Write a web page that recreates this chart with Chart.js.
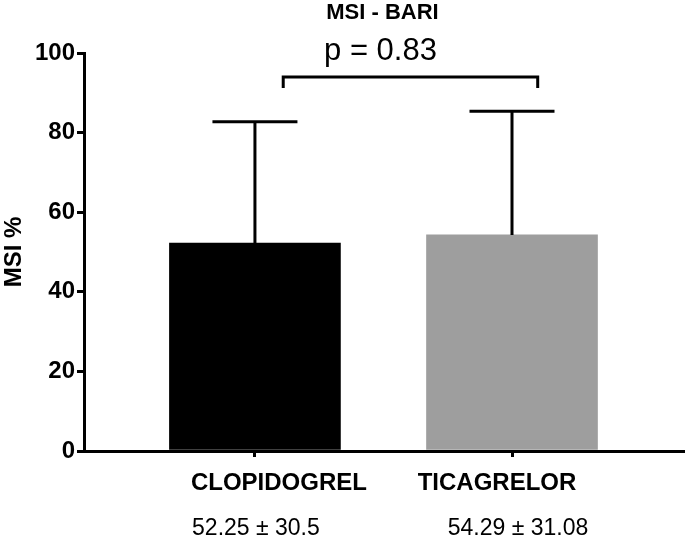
<!DOCTYPE html>
<html>
<head>
<meta charset="utf-8">
<script src="https://cdn.jsdelivr.net/npm/chart.js@4"></script>
<style>
  html, body { margin: 0; padding: 0; background: #fff; }
  #contenedor { width: 685px; height: 539px; }
</style>
</head>
<body>
<div id="contenedor"><canvas id="grafica"></canvas></div>
<script>
// ================= DATOS =================
const categorias = ["CLOPIDOGREL", "TICAGRELOR"];
const posiciones = [1, 2];
const medias = [52.25, 54.29];
const desviaciones = [30.5, 31.08];
const coloresBarras = ["#000000", "#9e9e9e"];
const ticksY = [0, 20, 40, 60, 80, 100];
const titulo = "MSI - BARI";
const textoP = "p = 0.83";

const FUENTE = "'Liberation Sans', Arial, Helvetica, sans-serif";

// 🔥 BARRAS DE ERROR, LLAVE Y TEXTOS
const pluginAnotaciones = {
  id: "anotaciones",
  afterDatasetsDraw(chart) {
    const { ctx, chartArea, scales: { x, y } } = chart;
    ctx.save();
    ctx.strokeStyle = "#000";
    ctx.lineWidth = 3;
    ctx.lineCap = "butt";

    // barras de error (solo hacia arriba)
    medias.forEach((m, i) => {
      const cx = x.getPixelForValue(posiciones[i]);
      const yBase = y.getPixelForValue(m);
      const yTop = y.getPixelForValue(m + desviaciones[i]);
      ctx.beginPath();
      ctx.moveTo(cx, yBase);
      ctx.lineTo(cx, yTop);
      ctx.moveTo(cx - 42.5, yTop);
      ctx.lineTo(cx + 42.5, yTop);
      ctx.stroke();
    });

    // llave de comparacion
    const x1 = x.getPixelForValue(1.11);
    const x2 = x.getPixelForValue(2.10);
    const yL = y.getPixelForValue(94);
    const yL2 = y.getPixelForValue(91.2);
    ctx.beginPath();
    ctx.moveTo(x1, yL2);
    ctx.lineTo(x1, yL);
    ctx.lineTo(x2, yL);
    ctx.lineTo(x2, yL2);
    ctx.stroke();

    // etiquetas de categoria y media ± DE
    const ajusteNombre = [24, -15];
    const ajusteValor = [1, 6];
    ctx.fillStyle = "#000";
    ctx.textAlign = "center";
    ctx.textBaseline = "alphabetic";
    categorias.forEach((c, i) => {
      const cx = x.getPixelForValue(posiciones[i]);
      ctx.font = "bold 24px " + FUENTE;
      ctx.fillText(c, cx + ajusteNombre[i], chartArea.bottom + 39);
      ctx.font = "23px " + FUENTE;
      ctx.fillText(medias[i] + " ± " + desviaciones[i], cx + ajusteValor[i], chartArea.bottom + 84);
    });

    // titulo y valor p
    const centro = (chartArea.left + chartArea.right) / 2;
    ctx.font = "bold 22px " + FUENTE;
    ctx.fillText(titulo, centro - 2, 19);
    ctx.font = "31px " + FUENTE;
    ctx.fillText(textoP, centro - 4, 60);

    ctx.restore();
  }
};

new Chart(document.getElementById("grafica"), {
  type: "bar",
  data: {
    datasets: [{
      data: posiciones.map((p, i) => ({ x: p, y: medias[i] })),
      backgroundColor: coloresBarras,
      borderWidth: 0,
      barThickness: 171
    }]
  },
  options: {
    responsive: true,
    maintainAspectRatio: false,
    animation: false,
    layout: { padding: { top: 53, right: 0, left: 0, bottom: 0 } },
    plugins: {
      legend: { display: false },
      tooltip: { enabled: false }
    },
    scales: {
      x: {
        type: "linear",
        min: 0.335,
        max: 2.673,
        offset: false,
        afterBuildTicks: s => { s.ticks = posiciones.map(v => ({ value: v })); },
        afterFit: s => { s.height = 88; },
        ticks: { callback: () => "", font: { size: 1 } },
        grid: {
          display: true,
          offset: false,
          drawOnChartArea: false,
          drawTicks: true,
          tickLength: 6,
          color: "#000",
          lineWidth: 3
        },
        border: { display: true, color: "#000", width: 3 }
      },
      y: {
        min: 0,
        max: 100,
        afterBuildTicks: s => { s.ticks = ticksY.map(v => ({ value: v })); },
        afterFit: s => { s.width = 84; },
        ticks: {
          color: "#000",
          padding: 2,
          font: { family: FUENTE, size: 24, weight: "bold" }
        },
        grid: {
          display: true,
          drawOnChartArea: false,
          drawTicks: true,
          tickLength: 7,
          color: "#000",
          lineWidth: 3
        },
        border: { display: true, color: "#000", width: 3 },
        title: {
          display: true,
          text: "MSI %",
          color: "#000",
          padding: 0,
          font: { family: FUENTE, size: 24, weight: "bold" }
        }
      }
    }
  },
  plugins: [pluginAnotaciones]
});
</script>
</body>
</html>
